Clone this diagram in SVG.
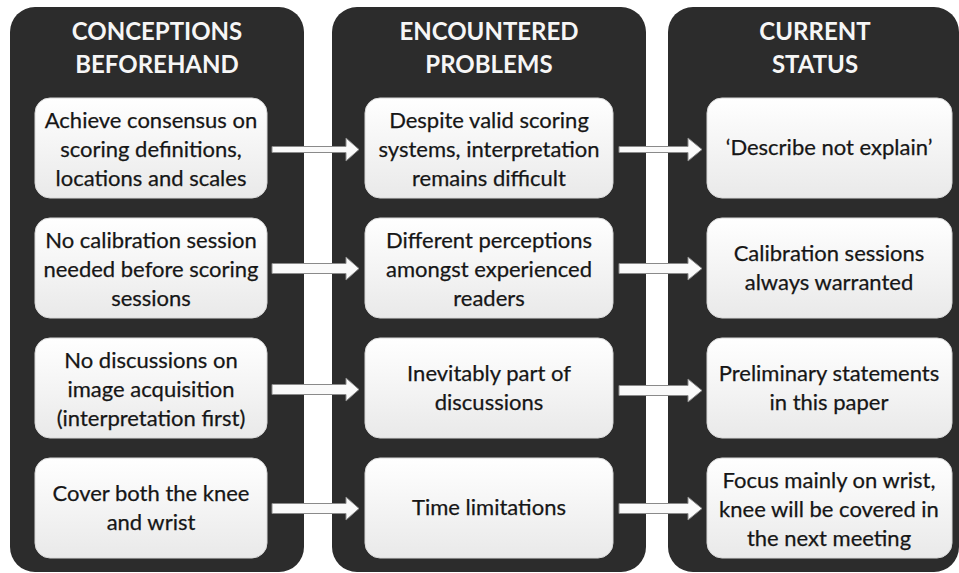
<svg xmlns="http://www.w3.org/2000/svg" width="959" height="573" viewBox="0 0 959 573">
<defs>
<linearGradient id="boxg" x1="0" y1="0" x2="0" y2="1">
<stop offset="0" stop-color="#ffffff"/>
<stop offset="1" stop-color="#e9e9e9"/>
</linearGradient>
<style>
.panel{fill:#2c2c2c;}
.box{fill:url(#boxg);stroke:#d8d8d8;stroke-width:1;}
.hdr{font-family:Lato,"Open Sans","Liberation Sans",sans-serif;font-weight:bold;font-size:24px;fill:#f6f6f6;text-anchor:middle;}
.txt{font-family:Lato,"Open Sans","Liberation Sans",sans-serif;font-size:22px;fill:#161616;text-anchor:middle;stroke:#161616;stroke-width:0.25;}
.arr{fill:#fafafa;stroke:#8a8a8a;stroke-width:1;}
</style>
</defs>
<rect width="959" height="573" fill="#ffffff"/>
<g id="col1">
<rect class="panel" x="10" y="7" width="294" height="565" rx="25"/>
<text class="hdr" x="157" y="40">CONCEPTIONS</text>
<text class="hdr" x="157" y="73">BEFOREHAND</text>
</g>
<g id="col2">
<rect class="panel" x="332" y="7" width="314" height="565" rx="25"/>
<text class="hdr" x="489" y="40">ENCOUNTERED</text>
<text class="hdr" x="489" y="73">PROBLEMS</text>
</g>
<g id="col3">
<rect class="panel" x="668" y="7" width="291" height="565" rx="25"/>
<text class="hdr" x="815" y="40">CURRENT</text>
<text class="hdr" x="815" y="73">STATUS</text>
</g>
<g id="c1r1"><rect class="box" x="35" y="98" width="232" height="100" rx="15"/>
<text class="txt" x="151" y="128">Achieve consensus on</text><text class="txt" x="151" y="157">scoring definitions,</text><text class="txt" x="151" y="186">locations and scales</text></g>
<g id="c1r2"><rect class="box" x="35" y="218" width="232" height="100" rx="15"/>
<text class="txt" x="151" y="248">No calibration session</text><text class="txt" x="151" y="277">needed before scoring</text><text class="txt" x="151" y="306">sessions</text></g>
<g id="c1r3"><rect class="box" x="35" y="338" width="232" height="100" rx="15"/>
<text class="txt" x="151" y="368">No discussions on</text><text class="txt" x="151" y="397">image acquisition</text><text class="txt" x="151" y="426">(interpretation first)</text></g>
<g id="c1r4"><rect class="box" x="35" y="458" width="232" height="100" rx="15"/>
<text class="txt" x="151" y="501">Cover both the knee</text><text class="txt" x="151" y="530">and wrist</text></g>
<g id="c2r1"><rect class="box" x="365" y="98" width="248" height="100" rx="15"/>
<text class="txt" x="489" y="128">Despite valid scoring</text><text class="txt" x="489" y="157">systems, interpretation</text><text class="txt" x="489" y="186">remains difficult</text></g>
<g id="c2r2"><rect class="box" x="365" y="218" width="248" height="100" rx="15"/>
<text class="txt" x="489" y="248">Different perceptions</text><text class="txt" x="489" y="277">amongst experienced</text><text class="txt" x="489" y="306">readers</text></g>
<g id="c2r3"><rect class="box" x="365" y="338" width="248" height="100" rx="15"/>
<text class="txt" x="489" y="381">Inevitably part of</text><text class="txt" x="489" y="410">discussions</text></g>
<g id="c2r4"><rect class="box" x="365" y="458" width="248" height="100" rx="15"/>
<text class="txt" x="489" y="515">Time limitations</text></g>
<g id="c3r1"><rect class="box" x="707" y="98" width="245" height="100" rx="15"/>
<text class="txt" x="829" y="155">‘Describe not explain’</text></g>
<g id="c3r2"><rect class="box" x="707" y="218" width="245" height="100" rx="15"/>
<text class="txt" x="829" y="261">Calibration sessions</text><text class="txt" x="829" y="290">always warranted</text></g>
<g id="c3r3"><rect class="box" x="707" y="338" width="245" height="100" rx="15"/>
<text class="txt" x="829" y="381">Preliminary statements</text><text class="txt" x="829" y="410">in this paper</text></g>
<g id="c3r4"><rect class="box" x="707" y="458" width="245" height="100" rx="15"/>
<text class="txt" x="829" y="488">Focus mainly on wrist,</text><text class="txt" x="829" y="517">knee will be covered in</text><text class="txt" x="829" y="546">the next meeting</text></g>
<g id="connectors">
<path class="arr" d="M272,146.5H346V138L359,149.5L346,161V152.5H272Z"/>
<path class="arr" d="M272,263.5H346V257L359,268.5L346,280V273.5H272Z"/>
<path class="arr" d="M272,384.5H346V378L359,389.5L346,401V394.5H272Z"/>
<path class="arr" d="M272,503.5H346V497L359,508.5L346,520V513.5H272Z"/>
<path class="arr" d="M619,146.5H688V138L702,149.5L688,161V152.5H619Z"/>
<path class="arr" d="M619,263.5H688V257L702,268.5L688,280V273.5H619Z"/>
<path class="arr" d="M619,385.5H688V379L702,390.5L688,402V395.5H619Z"/>
<path class="arr" d="M619,503.5H688V497L702,508.5L688,520V513.5H619Z"/>
</g>
</svg>
